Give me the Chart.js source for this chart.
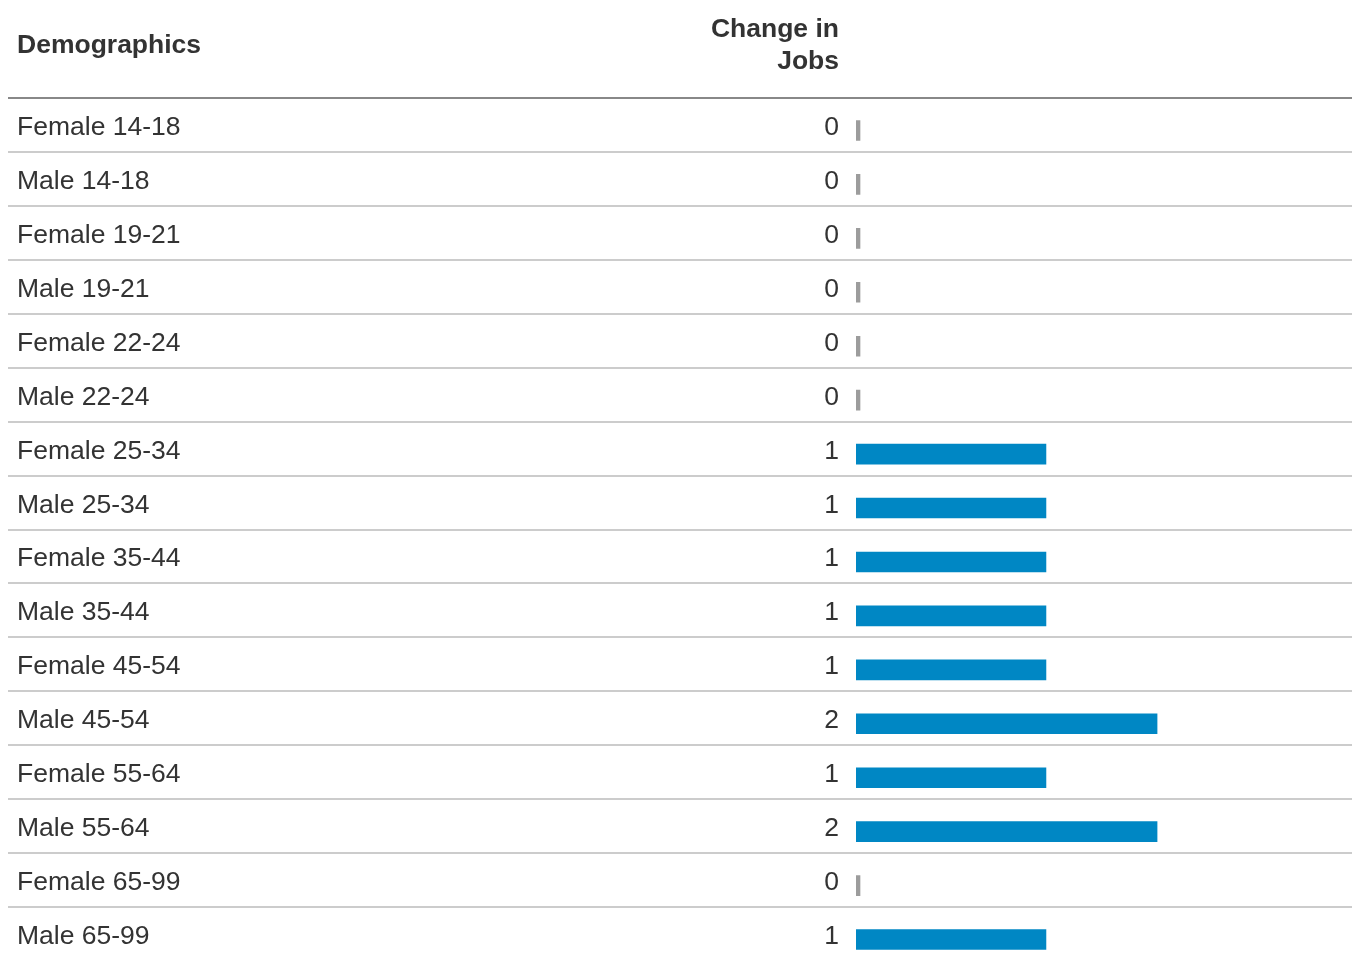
<!DOCTYPE html>
<html>
<head>
<meta charset="utf-8">
<title>Change in Jobs by Demographics</title>
<script src="https://cdn.jsdelivr.net/npm/chart.js@4.4.1/dist/chart.umd.min.js"></script>
<style>
  html, body { margin: 0; padding: 0; background: #ffffff; overflow: hidden; }
  body { width: 1354px; height: 958px; }
  #wrap { position: relative; width: 1354px; height: 980px; }
</style>
</head>
<body>
<div id="wrap"><canvas id="chart" width="1354" height="980"></canvas></div>
<script>
// Table rows and their values
const demographics = [
  'Female 14-18', 'Male 14-18', 'Female 19-21', 'Male 19-21',
  'Female 22-24', 'Male 22-24', 'Female 25-34', 'Male 25-34',
  'Female 35-44', 'Male 35-44', 'Female 45-54', 'Male 45-54',
  'Female 55-64', 'Male 55-64', 'Female 65-99', 'Male 65-99'
];
const jobChanges = [0, 0, 0, 0, 0, 0, 1, 1, 1, 1, 1, 2, 1, 2, 0, 1];
const headerLabels = ['Demographics', ['Change in', 'Jobs']];

const FONT = '"Liberation Sans", Arial, Helvetica, sans-serif';
const TEXT_COLOR = '#333333';
const BAR_COLOR = '#0087c4';
const ZERO_COLOR = '#9c9c9c';

// Bar lengths follow log(1 + value), so small counts stay readable
class Log1pScale extends Chart.LinearScale {
  getPixelForValue(value) {
    return this.getPixelForDecimal(Math.log1p(value) / Math.log1p(this.max));
  }
  getValueForPixel(pixel) {
    return Math.expm1(this.getDecimalForPixel(pixel) * Math.log1p(this.max));
  }
}
Log1pScale.id = 'log1p';
Log1pScale.defaults = Chart.LinearScale.defaults;
Chart.register(Log1pScale);

// Row text, values and separators of the table
const tablePlugin = {
  id: 'tableLayout',
  beforeDatasetsDraw(chart) {
    const ctx = chart.ctx;
    const y = chart.scales.y;
    const band = y.getPixelForValue(1) - y.getPixelForValue(0);
    const lift = 5.5;
    ctx.save();
    // header text
    ctx.fillStyle = TEXT_COLOR;
    ctx.font = 'bold 26.5px ' + FONT;
    ctx.textBaseline = 'alphabetic';
    ctx.textAlign = 'left';
    ctx.fillText(headerLabels[0], 17, 53);
    ctx.textAlign = 'right';
    ctx.fillText(headerLabels[1][0], 839, 37);
    ctx.fillText(headerLabels[1][1], 839, 69);

    // separators
    for (let i = 0; i < demographics.length; i++) {
      const top = Math.round(y.getPixelForValue(i) - band / 2 - lift);
      ctx.fillStyle = i === 0 ? '#888888' : '#cccccc';
      ctx.fillRect(8, top - 1, 1344, 2);
    }

    // row labels and values
    ctx.font = '26.5px ' + FONT;
    ctx.fillStyle = TEXT_COLOR;
    demographics.forEach((name, i) => {
      const cy = y.getPixelForValue(i);
      ctx.textAlign = 'left';
      ctx.fillText(name, 17, cy + 4.5);
      ctx.textAlign = 'right';
      ctx.fillText(String(jobChanges[i]), 839, cy + 4.5);
    });
    ctx.restore();
  }
};

new Chart(document.getElementById('chart'), {
  type: 'bar',
  data: {
    labels: demographics,
    datasets: [{
      data: jobChanges,
      backgroundColor: jobChanges.map(v => v === 0 ? ZERO_COLOR : BAR_COLOR),
      borderWidth: 0,
      barThickness: 20,
      minBarLength: 4
    }]
  },
  options: {
    indexAxis: 'y',
    responsive: false,
    animation: false,
    devicePixelRatio: 1,
    layout: { padding: { left: 856, right: 7, top: 103.5, bottom: 13.5 } },
    plugins: {
      legend: { display: false },
      tooltip: { enabled: false }
    },
    scales: {
      x: { type: 'log1p', min: 0, max: 5, display: false },
      y: { type: 'category', display: false, offset: true }
    }
  },
  plugins: [tablePlugin]
});
</script>
</body>
</html>
